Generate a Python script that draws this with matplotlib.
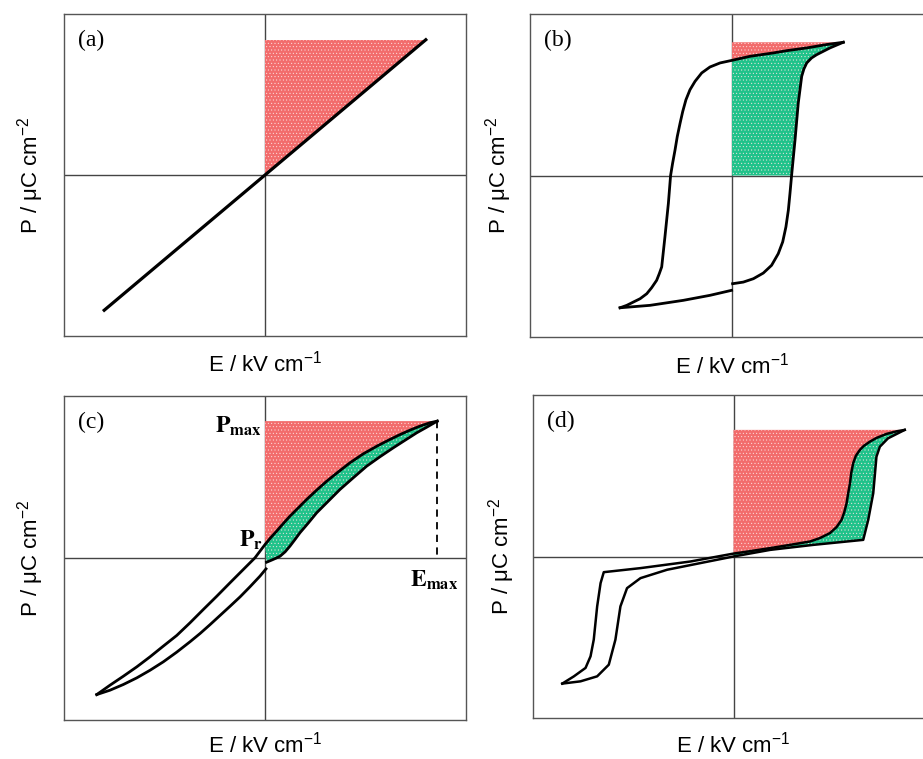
import matplotlib
matplotlib.use("Agg")
import matplotlib.pyplot as plt

plt.rcParams['font.family'] = ['Liberation Sans', 'DejaVu Sans']
plt.rcParams['mathtext.fontset'] = 'custom'
plt.rcParams['mathtext.rm'] = 'Liberation Sans'
plt.rcParams['mathtext.it'] = 'Liberation Sans:italic'
plt.rcParams['mathtext.bf'] = 'Liberation Sans:bold'
plt.rcParams['hatch.linewidth'] = 0.3

# ---- data (normalised E and P) ----
# (a) linear dielectric
a_E = [-0.80, 0.80]
a_P = [-0.84, 0.84]
a_Pmax = 0.84

# (b) ferroelectric loop
b_up_E = [0.551, 0.469, 0.370, 0.271, 0.205, 0.089, 0.0, -0.059, -0.109, -0.150, -0.183,
          -0.208, -0.228, -0.244, -0.257, -0.271, -0.282, -0.294, -0.304,
          -0.315, -0.332, -0.348, -0.360, -0.373, -0.398, -0.422, -0.455, -0.489, -0.521, -0.554]
b_up_P = [0.825, 0.811, 0.790, 0.773, 0.759, 0.738, 0.713, 0.697, 0.672, 0.635, 0.583,
          0.531, 0.469, 0.396, 0.324, 0.241, 0.158, 0.076, 0.0,
          -0.173, -0.380, -0.566, -0.608, -0.649, -0.695, -0.732, -0.763, -0.784, -0.804, -0.819]
b_lowL_E = [-0.554, -0.406, -0.241, -0.109, -0.002]
b_lowL_P = [-0.819, -0.804, -0.773, -0.742, -0.711]
b_lowR_E = [0.003, 0.056, 0.106, 0.155, 0.196, 0.229, 0.251, 0.267, 0.279, 0.287, 0.295,
            0.312, 0.328, 0.345, 0.356, 0.370, 0.394, 0.419, 0.485, 0.551]
b_lowR_P = [-0.670, -0.660, -0.639, -0.604, -0.556, -0.484, -0.411, -0.318, -0.214, -0.111, 0.0,
            0.220, 0.448, 0.614, 0.660, 0.697, 0.728, 0.748, 0.790, 0.825]
b_Pmax = 0.825

# (c) relaxor ferroelectric
c_up_E = [0.857, 0.821, 0.771, 0.721, 0.672, 0.614, 0.556, 0.489, 0.423, 0.365, 0.307, 0.257,
          0.207, 0.166, 0.124, 0.091, 0.058, 0.028, 0.0, -0.050,
          -0.108, -0.174, -0.240, -0.307, -0.373, -0.439, -0.506, -0.572, -0.638, -0.705, -0.771, -0.837]
c_up_P = [0.845, 0.835, 0.814, 0.789, 0.762, 0.727, 0.690, 0.643, 0.588, 0.532, 0.474, 0.419,
          0.361, 0.310, 0.258, 0.213, 0.166, 0.125, 0.083, 0.001,
          -0.071, -0.153, -0.236, -0.318, -0.400, -0.478, -0.544, -0.610, -0.672, -0.730, -0.785, -0.843]
c_lowL_E = [-0.837, -0.771, -0.705, -0.638, -0.572, -0.506, -0.439, -0.373, -0.323, -0.274,
            -0.224, -0.174, -0.124, -0.075, -0.025, 0.005]
c_lowL_P = [-0.843, -0.816, -0.781, -0.740, -0.693, -0.641, -0.581, -0.517, -0.466, -0.412,
            -0.355, -0.298, -0.240, -0.178, -0.112, -0.067]
c_lowR_E = [0.008, 0.033, 0.055, 0.075, 0.100, 0.124, 0.149, 0.174, 0.216, 0.257, 0.315, 0.373,
            0.439, 0.506, 0.572, 0.638, 0.697, 0.755, 0.804, 0.857]
c_lowR_P = [-0.026, -0.013, -0.001, 0.011, 0.038, 0.073, 0.114, 0.156, 0.217, 0.279, 0.351, 0.423,
            0.495, 0.567, 0.625, 0.680, 0.727, 0.773, 0.807, 0.845]
c_Pmax = 0.845
c_Emax = 0.857

# (d) antiferroelectric double loop
d_up_E = [0.854, 0.813, 0.763, 0.713, 0.680, 0.650, 0.630, 0.610, 0.597, 0.587, 0.581, 0.572,
          0.564, 0.552, 0.539, 0.514, 0.481, 0.431, 0.382, 0.282, 0.183, 0.083, 0.0,
          -0.215, -0.464, -0.647, -0.663, -0.680, -0.697, -0.713, -0.738, -0.796, -0.854]
d_up_P = [0.784, 0.775, 0.759, 0.734, 0.711, 0.685, 0.660, 0.623, 0.578, 0.516, 0.454, 0.392,
          0.330, 0.272, 0.227, 0.182, 0.145, 0.114, 0.093, 0.072, 0.052, 0.033, 0.018,
          -0.031, -0.072, -0.097, -0.165, -0.309, -0.515, -0.618, -0.690, -0.742, -0.787]
d_low_E = [-0.854, -0.763, -0.680, -0.622, -0.589, -0.564, -0.531, -0.464, -0.331, -0.166, 0.0,
           0.183, 0.398, 0.647, 0.672, 0.697, 0.713, 0.730, 0.771, 0.854]
d_low_P = [-0.787, -0.773, -0.742, -0.670, -0.515, -0.309, -0.196, -0.134, -0.082, -0.041, 0.0,
           0.041, 0.072, 0.103, 0.227, 0.392, 0.618, 0.680, 0.732, 0.784]
d_Pmax = 0.784

RED = '#F26C6C'
GREEN = '#20C28A'
LW = 2.0

fig = plt.figure(figsize=(9.23, 7.59), dpi=100)
W, H = 923.0, 759.0


def make_ax(left, top, right, bottom):
    ax = fig.add_axes([left / W, 1 - bottom / H, (right - left) / W, (bottom - top) / H])
    ax.set_xlim(-1, 1)
    ax.set_ylim(-1, 1)
    ax.set_xticks([])
    ax.set_yticks([])
    for s in ax.spines.values():
        s.set_color('#555555')
        s.set_linewidth(1.0)
    ax.axhline(0, color='#444444', lw=1.0, zorder=1)
    ax.axvline(0, color='#444444', lw=1.0, zorder=1)
    return ax


def shade(ax, xs, ys, color):
    ax.fill(xs, ys, facecolor=color, edgecolor='#FFE8E8', hatch='.....', lw=0, zorder=2)


def labels(ax, tag, xl, yl):
    ax.set_xlabel('E / kV cm$^{-1}$', fontsize=16)
    ax.set_ylabel('P / μC cm$^{-2}$', fontsize=16)
    ax.xaxis.set_label_coords(0.5, xl)
    ax.yaxis.set_label_coords(yl, 0.5)
    ax.xaxis.label.set_va('center')
    ax.yaxis.label.set_va('center')
    ax.text(0.035, 0.95, tag, transform=ax.transAxes, fontsize=17,
            family='Liberation Serif', va='top', ha='left')


# (a)
axa = make_ax(64, 14, 466, 336)
shade(axa, [0, 0, a_E[1]], [0, a_Pmax, a_Pmax], RED)
axa.plot(a_E, a_P, color='black', lw=2.3, zorder=3)
labels(axa, '(a)', -0.087, -0.082)

# (b)
axb = make_ax(530, 14, 934, 337)
i0 = b_up_E.index(0.0)
shade(axb, [0] + b_up_E[:i0 + 1][::-1] + [b_up_E[0]],
      [b_Pmax] + b_up_P[:i0 + 1][::-1] + [b_Pmax], RED)
j0 = b_lowR_P.index(0.0)
shade(axb, [0, 0] + b_up_E[:i0][::-1] + b_lowR_E[j0:][::-1],
      [0, b_up_P[i0]] + b_up_P[:i0][::-1] + b_lowR_P[j0:][::-1], GREEN)
axb.plot(b_up_E, b_up_P, color='black', lw=LW, zorder=3)
axb.plot(b_lowL_E, b_lowL_P, color='black', lw=LW, zorder=3)
axb.plot(b_lowR_E, b_lowR_P, color='black', lw=LW, zorder=3)
labels(axb, '(b)', -0.087, -0.079)

# (c)
axc = make_ax(64, 396, 466, 720)
k0 = c_up_E.index(0.0)
shade(axc, [0] + c_up_E[:k0 + 1][::-1] + [c_up_E[0]],
      [c_Pmax] + c_up_P[:k0 + 1][::-1] + [c_Pmax], RED)
shade(axc, c_up_E[:k0 + 1] + c_lowR_E, c_up_P[:k0 + 1] + c_lowR_P, GREEN)
axc.plot(c_up_E, c_up_P, color='black', lw=LW, zorder=3)
axc.plot(c_lowL_E, c_lowL_P, color='black', lw=LW, zorder=3)
axc.plot(c_lowR_E, c_lowR_P, color='black', lw=LW, zorder=3)
axc.plot([c_Emax, c_Emax], [c_Pmax, 0], color='black', lw=1.3, ls=(0, (4, 3)), zorder=3)
axc.text(-0.015, c_Pmax - 0.07, r'$\mathbf{P}_{\mathbf{max}}$', math_fontfamily='stix',
         fontsize=17, ha='right', va='baseline', zorder=4)
axc.text(-0.01, 0.072, r'$\mathbf{P}_{\mathbf{r}}$', math_fontfamily='stix',
         fontsize=17, ha='right', va='baseline', zorder=4)
axc.text(0.96, -0.175, r'$\mathbf{E}_{\mathbf{max}}$', math_fontfamily='stix',
         fontsize=17, ha='right', va='baseline', zorder=4)
labels(axc, '(c)', -0.077, -0.082)

# (d)
axd = make_ax(533, 395, 934, 718)
m0 = d_up_E.index(0.0)
shade(axd, [0] + d_up_E[:m0 + 1][::-1] + [d_up_E[0]],
      [d_Pmax] + d_up_P[:m0 + 1][::-1] + [d_Pmax], RED)
n0 = d_low_E.index(0.0)
shade(axd, d_up_E[:m0 + 1] + d_low_E[n0:], d_up_P[:m0 + 1] + d_low_P[n0:], GREEN)
axd.plot(d_up_E, d_up_P, color='black', lw=1.8, zorder=3)
axd.plot(d_low_E, d_low_P, color='black', lw=1.8, zorder=3)
labels(axd, '(d)', -0.083, -0.079)

fig.savefig('out.png', dpi=100)
